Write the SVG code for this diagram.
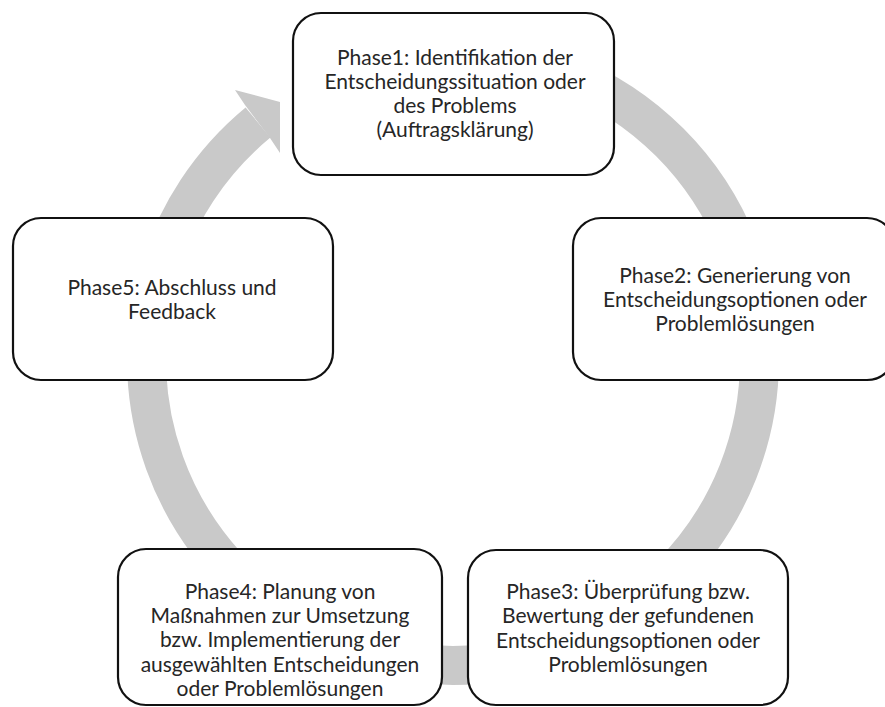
<svg xmlns="http://www.w3.org/2000/svg" width="885" height="707" viewBox="0 0 885 707">
<style>
.box{fill:#fff;stroke:#111;stroke-width:2.2}
.t{font-family:Lato,"Open Sans","Liberation Sans",sans-serif;font-size:21px;fill:#262626;text-anchor:middle}
.ring{fill:none;stroke:#c9c9c9;stroke-width:39}
</style>
<rect width="885" height="707" fill="#fff"/>
<g id="connectors">
<path class="ring" d="M453,52.5 A306.5,306.5 0 0 1 453,665.5 A306.5,306.5 0 0 1 258,122.5"/>
<polygon points="245,105 235,90 280,102 280,153 270,138" fill="#c9c9c9"/>
</g>
<g id="phase1">
<rect class="box" x="293" y="13" width="321" height="162" rx="28"/>
<text class="t" x="455" y="65">Phase1: Identifikation der</text>
<text class="t" x="455" y="89">Entscheidungssituation oder</text>
<text class="t" x="455" y="113">des Problems</text>
<text class="t" x="455" y="137">(Auftragsklärung)</text>
</g>
<g id="phase2">
<rect class="box" x="573" y="218" width="322" height="162" rx="28"/>
<text class="t" x="735" y="283">Phase2: Generierung von</text>
<text class="t" x="735" y="307">Entscheidungsoptionen oder</text>
<text class="t" x="735" y="331">Problemlösungen</text>
</g>
<g id="phase3">
<rect class="box" x="468" y="550" width="320" height="155" rx="28"/>
<text class="t" x="628" y="599">Phase3: Überprüfung bzw.</text>
<text class="t" x="628" y="623">Bewertung der gefundenen</text>
<text class="t" x="628" y="648">Entscheidungsoptionen oder</text>
<text class="t" x="628" y="672">Problemlösungen</text>
</g>
<g id="phase4">
<rect class="box" x="118" y="549" width="324" height="156" rx="28"/>
<text class="t" x="280" y="599">Phase4: Planung von</text>
<text class="t" x="280" y="623">Maßnahmen zur Umsetzung</text>
<text class="t" x="280" y="647">bzw. Implementierung der</text>
<text class="t" x="280" y="672">ausgewählten Entscheidungen</text>
<text class="t" x="280" y="696">oder Problemlösungen</text>
</g>
<g id="phase5">
<rect class="box" x="13" y="218" width="320" height="162" rx="28"/>
<text class="t" x="172" y="295">Phase5: Abschluss und</text>
<text class="t" x="172" y="319">Feedback</text>
</g>
</svg>
